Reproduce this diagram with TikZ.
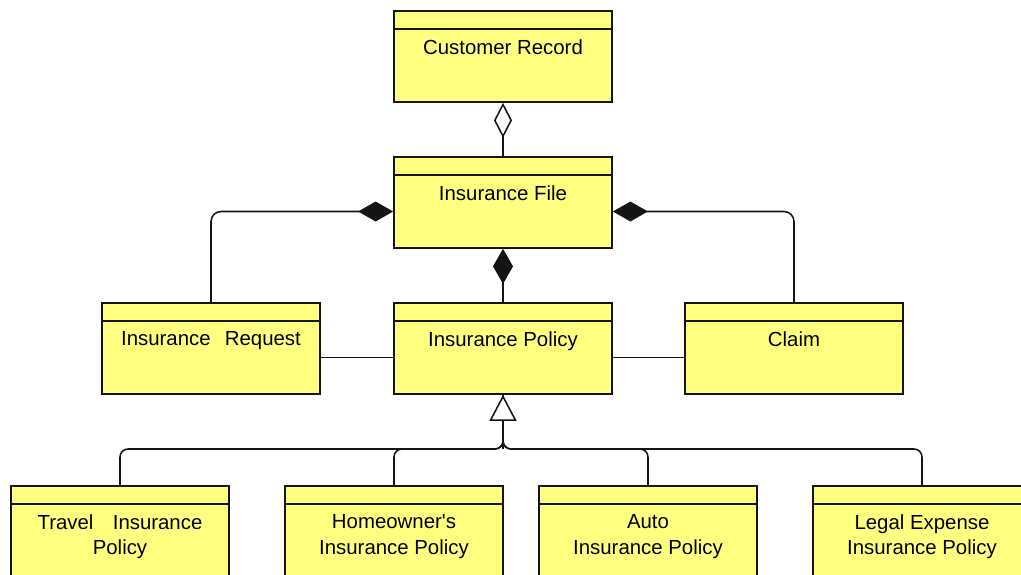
\documentclass[tikz,border=0pt]{standalone}
\usepackage{fontspec}
\setmainfont{Liberation Sans}
\usetikzlibrary{arrows.meta}
\definecolor{umlyellow}{RGB}{255,255,128}
\definecolor{umlline}{RGB}{20,20,20}

\begin{document}
\begin{tikzpicture}[
  x=0.025cm,y=-0.025cm,
  every node/.style={font=\fontsize{14.5}{18.4}\selectfont},
  umlclass/.style={draw=umlline,line width=1.2pt,fill=umlyellow,minimum width=5.45cm,minimum height=2.275cm,inner sep=0pt,
    path picture={\draw[umlline,line width=1pt] ([yshift=-0.45cm]path picture bounding box.north west) -- ([yshift=-0.45cm]path picture bounding box.north east);}},
  title/.style={anchor=north,yshift=-0.72cm,inner sep=0pt,align=center},
  link/.style={line width=1.1pt,umlline},
  comp/.style={link,{Diamond[length=0.875cm,width=0.5cm]}-},
  aggr/.style={link,{Diamond[open,fill=white,length=0.875cm,width=0.45cm]}-},
  gen/.style={link,-{Triangle[open,fill=white,length=0.65cm,width=0.675cm]}}
]
\useasboundingbox (0,0) rectangle (1021,574);

% classes
\node[umlclass,label={[title]north:Customer Record}] (cr) at (503,56.5) {};
\node[umlclass,label={[title]north:Insurance File}] (ifile) at (503,202.5) {};
\node[umlclass,label={[title]north:Insurance\hspace{0.7em}Request}] (ireq) at (211,348.5) {};
\node[umlclass,label={[title]north:Insurance Policy}] (ipol) at (503,348.5) {};
\node[umlclass,label={[title]north:Claim}] (claim) at (794,348.5) {};
\node[umlclass,label={[title]north:Travel\hspace{0.95em}Insurance\\Policy}] (trav) at (120,531.5) {};
\node[umlclass,label={[title]north:Homeowner\textquotesingle s\\Insurance Policy}] (home) at (394,531.5) {};
\node[umlclass,label={[title]north:Auto\\Insurance Policy}] (auto) at (648,531.5) {};
\node[umlclass,label={[title]north:Legal Expense\\Insurance Policy}] (legal) at (922,531.5) {};

% associations
\draw[aggr] (cr) -- (ifile);
\draw[comp] (ifile) -- (ipol);
\draw[comp,rounded corners=0.25cm] ([yshift=-0.225cm]ifile.west) -| (ireq.north);
\draw[comp,rounded corners=0.25cm] ([yshift=-0.225cm]ifile.east) -| (claim.north);
\draw[link] ([yshift=-0.225cm]ireq.east) -- ([yshift=-0.225cm]ipol.west);
\draw[link] ([yshift=-0.225cm]ipol.east) -- ([yshift=-0.225cm]claim.west);

% generalisation
\coordinate (fork) at (503,449);
\foreach \c in {trav,home,auto,legal}
  \draw[link,rounded corners=0.2cm] (\c.north) |- (fork) -- (ipol.south);
\draw[gen] (fork) -- (ipol);
\end{tikzpicture}
\end{document}
